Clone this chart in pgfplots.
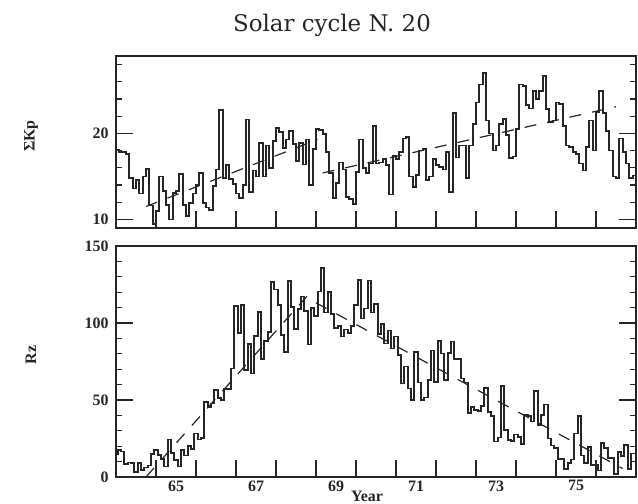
\documentclass[border=0pt]{standalone}
\usepackage{pgfplots}
\pgfplotsset{compat=1.18}
\usepackage{pgfplotstable}
\usepackage{fontspec}
\setmainfont{Liberation Serif}
\newfontfamily\lab{Liberation Serif}
\newfontfamily\ttl{DejaVu Serif}

% monthly mean Sigma Kp, Jan 1964 ... Dec 1976 (last row repeated to close the step)
\pgfplotstableread[row sep=\\]{
v\\
18.1\\ 17.8\\ 17.8\\ 17.6\\ 14.8\\ 13.6\\ 14.6\\ 13.0\\ 15.0\\ 15.9\\ 11.6\\ 9.5\\
11.0\\ 15.0\\ 13.3\\ 11.7\\ 10.0\\ 13.1\\ 13.3\\ 15.3\\ 11.7\\ 10.4\\ 11.9\\ 13.0\\
14.0\\ 15.4\\ 11.9\\ 11.4\\ 11.1\\ 13.9\\ 15.8\\ 22.7\\ 14.8\\ 16.3\\ 14.7\\ 14.1\\
13.0\\ 12.5\\ 14.0\\ 21.6\\ 13.2\\ 15.7\\ 15.0\\ 18.9\\ 15.0\\ 18.6\\ 16.0\\ 19.1\\
20.6\\ 20.2\\ 18.3\\ 19.3\\ 20.3\\ 18.8\\ 16.8\\ 18.9\\ 16.4\\ 19.3\\ 14.0\\ 18.2\\
20.5\\ 20.4\\ 19.9\\ 17.8\\ 15.4\\ 12.5\\ 14.2\\ 16.6\\ 15.8\\ 12.6\\ 12.4\\ 11.8\\
15.5\\ 19.3\\ 16.0\\ 15.4\\ 16.5\\ 20.9\\ 16.5\\ 16.6\\ 17.0\\ 16.3\\ 12.9\\ 17.4\\
17.0\\ 17.8\\ 19.4\\ 19.6\\ 15.0\\ 13.8\\ 15.2\\ 18.0\\ 18.2\\ 14.6\\ 15.0\\ 17.0\\
16.3\\ 16.1\\ 15.8\\ 17.8\\ 13.2\\ 22.4\\ 17.2\\ 18.6\\ 18.6\\ 14.8\\ 18.6\\ 21.1\\
23.6\\ 25.7\\ 27.0\\ 21.5\\ 20.0\\ 18.0\\ 18.6\\ 21.1\\ 21.7\\ 19.8\\ 17.1\\ 17.3\\
20.5\\ 25.7\\ 25.5\\ 23.3\\ 22.9\\ 24.9\\ 24.0\\ 24.9\\ 26.7\\ 22.8\\ 21.3\\ 21.5\\
23.6\\ 23.4\\ 20.9\\ 18.6\\ 18.4\\ 17.8\\ 17.6\\ 16.5\\ 15.7\\ 18.4\\ 21.5\\ 18.0\\
22.5\\ 24.9\\ 22.4\\ 20.3\\ 18.0\\ 15.0\\ 14.8\\ 19.4\\ 17.8\\ 16.5\\ 14.8\\ 15.1\\
15.1\\
}\kptable

% monthly sunspot number Rz, Jan 1964 ... Dec 1976 (last row repeated to close the step)
\pgfplotstableread[row sep=\\]{
v\\
15.0\\ 17.7\\ 16.5\\ 8.6\\ 9.5\\ 9.1\\ 3.1\\ 9.3\\ 4.7\\ 6.1\\ 7.4\\ 15.1\\
17.5\\ 14.2\\ 11.7\\ 6.8\\ 24.4\\ 15.4\\ 11.0\\ 6.8\\ 17.5\\ 14.0\\ 20.0\\ 18.0\\
28.2\\ 24.4\\ 25.3\\ 48.7\\ 45.3\\ 47.7\\ 56.7\\ 51.2\\ 50.2\\ 57.2\\ 57.2\\ 70.4\\
110.9\\ 93.6\\ 111.8\\ 69.5\\ 86.5\\ 67.3\\ 91.5\\ 107.2\\ 76.8\\ 88.2\\ 94.3\\ 126.4\\
121.8\\ 111.9\\ 92.2\\ 81.2\\ 127.2\\ 110.3\\ 96.1\\ 109.3\\ 117.2\\ 107.7\\ 86.0\\ 109.8\\
104.4\\ 120.5\\ 135.8\\ 106.8\\ 120.0\\ 106.0\\ 96.8\\ 98.0\\ 91.3\\ 95.7\\ 93.5\\ 97.9\\
111.5\\ 127.8\\ 102.9\\ 109.5\\ 127.5\\ 106.8\\ 112.5\\ 93.0\\ 99.5\\ 86.6\\ 95.2\\ 83.5\\
91.3\\ 79.0\\ 60.7\\ 71.8\\ 57.5\\ 49.8\\ 81.0\\ 61.4\\ 50.2\\ 51.7\\ 63.2\\ 82.2\\
61.5\\ 88.4\\ 80.1\\ 63.2\\ 80.5\\ 88.0\\ 76.5\\ 76.8\\ 64.0\\ 61.3\\ 41.6\\ 45.3\\
43.4\\ 42.9\\ 46.0\\ 57.7\\ 42.4\\ 39.5\\ 23.1\\ 25.6\\ 59.3\\ 30.7\\ 23.9\\ 23.3\\
27.6\\ 26.0\\ 21.3\\ 40.3\\ 39.5\\ 36.0\\ 55.8\\ 33.6\\ 40.2\\ 47.1\\ 25.0\\ 20.5\\
18.9\\ 11.5\\ 11.5\\ 5.1\\ 9.0\\ 11.4\\ 28.2\\ 39.7\\ 13.9\\ 9.1\\ 19.4\\ 7.8\\
8.1\\ 4.3\\ 21.9\\ 18.8\\ 12.4\\ 12.2\\ 1.9\\ 16.4\\ 13.5\\ 20.6\\ 5.2\\ 15.3\\
15.3\\
}\rztable

\definecolor{ink}{HTML}{262626}

\pgfplotsset{
  myaxis/.style={
    scale only axis, width=520bp,
    xmin=0, xmax=156,
    axis line style={line width=1.7bp, ink},
    every tick/.style={line width=1.3bp, ink},
    major tick length=17bp, minor tick length=6bp,
    tick align=inside,
    xtick={12,24,...,144}, xticklabels={},
    xtick pos=bottom, ytick pos=both, yticklabel pos=left,
    tick label style={font=\lab\bfseries\fontsize{16}{16}\selectfont, text=ink},
    yticklabel style={xshift=-4bp},
    /pgf/number format/assume math mode=true,
  },
  dataline/.style={line width=1.7bp, ink},
  fitline/.style={line width=1.2bp, ink, dash pattern=on 12bp off 11bp},
}

\begin{document}
\begin{tikzpicture}
\useasboundingbox (0,0) rectangle (638bp,504bp);

\begin{axis}[myaxis, at={(116bp,276bp)}, anchor=south west, height=172bp,
  ymin=9, ymax=29, ytick={10,20}, minor ytick={12,14,16,18,22,24,26,28}]
\addplot[dataline, const plot] table[x expr=\coordindex, y=v]{\kptable};
\addplot[fitline] coordinates {(9,11.5) (60.5,19.3)};
\addplot[fitline] coordinates {(62,15.4) (150,23.1)};
\end{axis}

\begin{axis}[myaxis, at={(116bp,27bp)}, anchor=south west, height=231bp,
  ymin=0, ymax=150, ytick={0,50,100,150},
  minor ytick={10,20,30,40,60,70,80,90,110,120,130,140},
  extra x ticks={18,42,66,90,114,138},
  extra x tick labels={65,67,69,71,73,75},
  extra x tick style={major tick length=0bp}]
\addplot[dataline, const plot mark mid] table[x expr=\coordindex, y=v]{\rztable};
\addplot[fitline] coordinates {(9,0) (59,121.5)};
\addplot[fitline] coordinates {(60,113.1) (152,5.5)};
\end{axis}

\node[anchor=base, text=ink, font=\ttl\fontsize{23}{23}\selectfont] at (332bp,472bp) {Solar cycle N. 20};
\node[rotate=90, text=ink, font=\lab\bfseries\fontsize{16}{16}\selectfont] at (31bp,368bp) {ΣKp};
\node[rotate=90, text=ink, font=\lab\bfseries\fontsize{16}{16}\selectfont] at (31bp,149bp) {Rz};
\node[anchor=base, inner sep=0pt, text=ink, font=\lab\bfseries\fontsize{16}{16}\selectfont] at (367bp,3bp) {Year};
\end{tikzpicture}
\end{document}
